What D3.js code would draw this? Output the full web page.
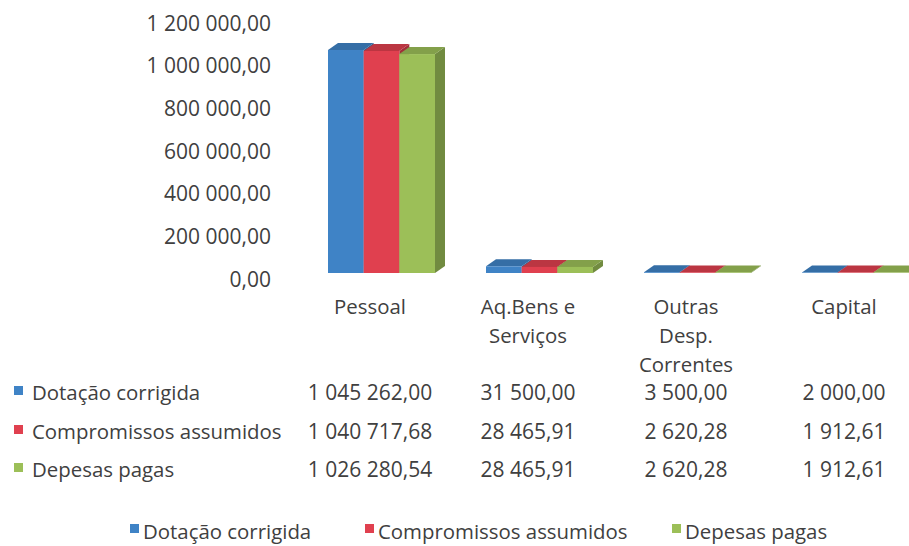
<!DOCTYPE html>
<html>
<head>
<meta charset="utf-8">
<script src="https://cdn.jsdelivr.net/npm/d3@7"></script>
<style>
  html, body { margin: 0; padding: 0; background: #fff; }
  svg text { font-family: "Open Sans", sans-serif; fill: #404040; }
</style>
</head>
<body>
<div id="chart"></div>
<script>
// dados
const categories = ['Pessoal', 'Aq.Bens e Serviços', 'Outras Desp. Correntes', 'Capital'];
const categoryLines = [['Pessoal'], ['Aq.Bens e', 'Serviços'], ['Outras', 'Desp.', 'Correntes'], ['Capital']];
const seriesNames = ['Dotação corrigida', 'Compromissos assumidos', 'Depesas pagas'];
const dotacao = [1045262.00, 31500.00, 3500.00, 2000.00];
const compromissos = [1040717.68, 28465.91, 2620.28, 1912.61];
const despesas = [1026280.54, 28465.91, 2620.28, 1912.61];
const yTicks = [0, 200000, 400000, 600000, 800000, 1000000, 1200000];

const seriesValues = [dotacao, compromissos, despesas];
const colors = ['#3f83c6', '#e0404f', '#9cbf58'];

const width = 909, height = 546;
const numSize = 21;   // números
const wordSize = 20.4; // textos
const depth = { x: 10, y: -7 };

const locale = d3.formatLocale({ decimal: ',', thousands: '\u00a0', grouping: [3], currency: ['', ''] });
const fmt = locale.format(',.2f');

const svg = d3.select('#chart').append('svg')
  .attr('width', width)
  .attr('height', height);

// escalas
const x = d3.scaleBand().domain(categories).range([291, 923]);
const y = d3.scaleLinear().domain([0, 1200000]).range([273, 17]);
const xs = d3.scaleBand().domain(seriesNames).range([-42, 65]);

// eixo Y (só rótulos)
svg.append('g').selectAll('text')
  .data(yTicks)
  .enter()
  .append('text')
  .attr('x', 271)
  .attr('y', d => y(d) + 8)
  .attr('text-anchor', 'end')
  .attr('dominant-baseline', 'middle')
  .style('font-size', numSize + 'px')
  .text(d => fmt(d));

// barras 3D
const shade = (c, k) => d3.color(c).darker(k).formatHex();
const bars = [];
categories.forEach((cat, i) => {
  seriesNames.forEach((s, j) => {
    bars.push({ cat, s, j, v: seriesValues[j][i] });
  });
});

const gBars = svg.append('g');
bars.forEach(d => {
  const x0 = x(d.cat) + x.bandwidth() / 2 + xs(d.s);
  const x1 = x0 + xs.bandwidth();
  const y0 = y(0), y1 = y(d.v);
  const g = gBars.append('g');
  // lateral
  g.append('path')
    .attr('d', `M${x1},${y1}L${x1 + depth.x},${y1 + depth.y}L${x1 + depth.x},${y0 + depth.y}L${x1},${y0}Z`)
    .attr('fill', shade(colors[d.j], 0.9));
  // topo
  g.append('path')
    .attr('d', `M${x0},${y1}L${x0 + depth.x},${y1 + depth.y}L${x1 + depth.x},${y1 + depth.y}L${x1},${y1}Z`)
    .attr('fill', shade(colors[d.j], 0.5));
  // frente
  g.append('rect')
    .attr('x', x0)
    .attr('y', y1)
    .attr('width', xs.bandwidth())
    .attr('height', y0 - y1)
    .attr('fill', colors[d.j]);
});

// rótulos das categorias
const lineH = 29;
categories.forEach((cat, i) => {
  const t = svg.append('text')
    .attr('x', x(cat) + x.bandwidth() / 2)
    .attr('y', 314)
    .attr('text-anchor', 'middle')
    .style('font-size', wordSize + 'px');
  categoryLines[i].forEach((line, k) => {
    t.append('tspan')
      .attr('x', x(cat) + x.bandwidth() / 2)
      .attr('dy', k === 0 ? 0 : lineH)
      .text(line);
  });
});

// tabela de dados
const rowY = [400, 439, 477];
seriesNames.forEach((s, j) => {
  svg.append('rect')
    .attr('x', 14).attr('y', rowY[j] - 14)
    .attr('width', 9).attr('height', 9)
    .attr('fill', colors[j]);
  svg.append('text')
    .attr('x', 32).attr('y', rowY[j])
    .style('font-size', wordSize + 'px')
    .text(s);
  categories.forEach((cat, i) => {
    svg.append('text')
      .attr('x', x(cat) + x.bandwidth() / 2)
      .attr('y', rowY[j])
      .attr('text-anchor', 'middle')
      .style('font-size', numSize + 'px')
      .text(fmt(seriesValues[j][i]));
  });
});

// legenda
const legendX = [130, 365, 672];
seriesNames.forEach((s, j) => {
  svg.append('rect')
    .attr('x', legendX[j]).attr('y', 524)
    .attr('width', 9).attr('height', 9)
    .attr('fill', colors[j]);
  svg.append('text')
    .attr('x', legendX[j] + 13).attr('y', 539)
    .style('font-size', wordSize + 'px')
    .text(s);
});
</script>
</body>
</html>
